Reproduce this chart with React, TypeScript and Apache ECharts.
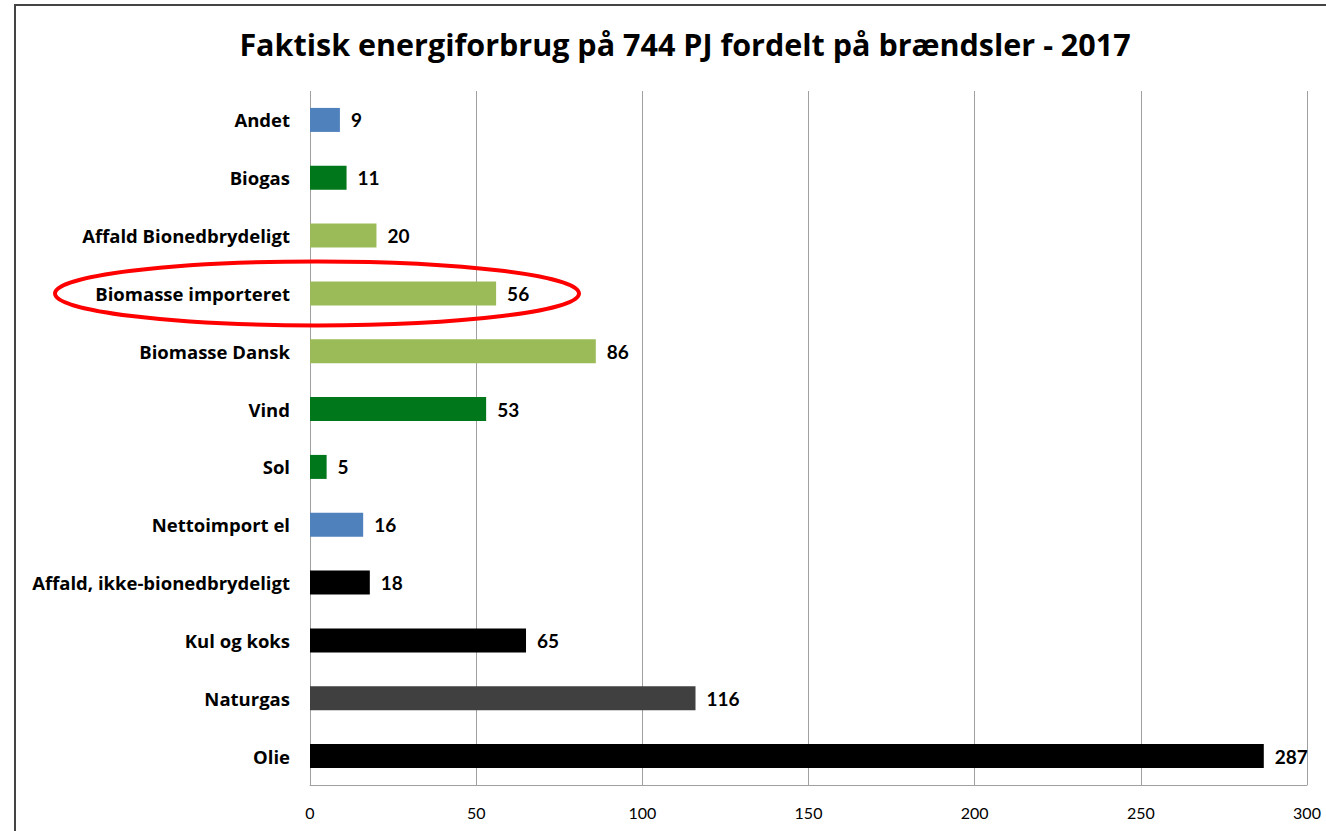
import React, { useEffect, useRef } from "react";
import * as echarts from "echarts";

const categories = [
  "Andet",
  "Biogas",
  "Affald Bionedbrydeligt",
  "Biomasse importeret",
  "Biomasse Dansk",
  "Vind",
  "Sol",
  "Nettoimport el",
  "Affald, ikke-bionedbrydeligt",
  "Kul og koks",
  "Naturgas",
  "Olie",
];
const values = [9, 11, 20, 56, 86, 53, 5, 16, 18, 65, 116, 287];
const barColors = [
  "#4f81bd",
  "#00771b",
  "#9bbb59",
  "#9bbb59",
  "#9bbb59",
  "#00771b",
  "#00771b",
  "#4f81bd",
  "#000000",
  "#000000",
  "#404040",
  "#000000",
];
const xTicks = { min: 0, max: 300, interval: 50 };
const titleText = "Faktisk energiforbrug på 744 PJ fordelt på brændsler - 2017";
const highlighted = "Biomasse importeret";

const FONT = "Lato, 'Liberation Sans', sans-serif";
const WIDE = "'Open Sans', 'Liberation Sans', sans-serif";

export default function App() {
  const ref = useRef<HTMLDivElement>(null);
  useEffect(() => {
    document.body.style.margin = "0";
    const chart = echarts.init(ref.current!, null, { renderer: "svg" });
    chart.setOption({
      animation: false,
      backgroundColor: "#ffffff",
      title: {
        text: titleText,
        left: 680,
        top: 23,
        textAlign: "center",
        textStyle: {
          fontFamily: WIDE,
          fontWeight: "bold",
          fontSize: 30.5,
          color: "#000",
        },
      },
      grid: { left: 310, right: 19, top: 91, bottom: 46 },
      xAxis: {
        type: "value",
        min: xTicks.min,
        max: xTicks.max,
        interval: xTicks.interval,
        axisLine: { show: true, lineStyle: { color: "#a0a0a0", width: 1 } },
        axisTick: { show: false },
        splitLine: { show: true, lineStyle: { color: "#a0a0a0", width: 1 } },
        axisLabel: {
          fontFamily: FONT,
          fontSize: 16,
          color: "#000",
          margin: 19,
        },
      },
      yAxis: {
        type: "category",
        data: categories,
        inverse: true,
        axisLine: { show: false },
        axisTick: { show: false },
        axisLabel: {
          fontFamily: WIDE,
          fontWeight: "bold",
          fontSize: 18.5,
          color: "#000",
          margin: 20,
        },
      },
      series: [
        {
          type: "bar",
          barWidth: 24,
          data: values.map((v, i) => ({
            value: v,
            itemStyle: { color: barColors[i] },
          })),
          label: {
            show: true,
            position: "right",
            distance: 11,
            fontFamily: FONT,
            fontWeight: "bold",
            fontSize: 19,
            color: "#000",
          },
        },
      ],
    });
    const yc = chart.convertToPixel({ yAxisIndex: 0 }, highlighted) as number;
    chart.setOption({
      graphic: [
        {
          type: "rect",
          shape: { x: 15, y: 5, width: 1400, height: 900 },
          style: { fill: "none", stroke: "#444", lineWidth: 2 },
          silent: true,
        },
        {
          type: "ellipse",
          shape: { cx: 317, cy: yc, rx: 262, ry: 32 },
          style: { fill: "none", stroke: "#ff0000", lineWidth: 4 },
          z: 100,
          silent: true,
        },
      ],
    });
    return () => chart.dispose();
  }, []);
  return (
    <div
      ref={ref}
      style={{ position: "fixed", left: 0, top: 0, width: 1326, height: 831 }}
    />
  );
}
